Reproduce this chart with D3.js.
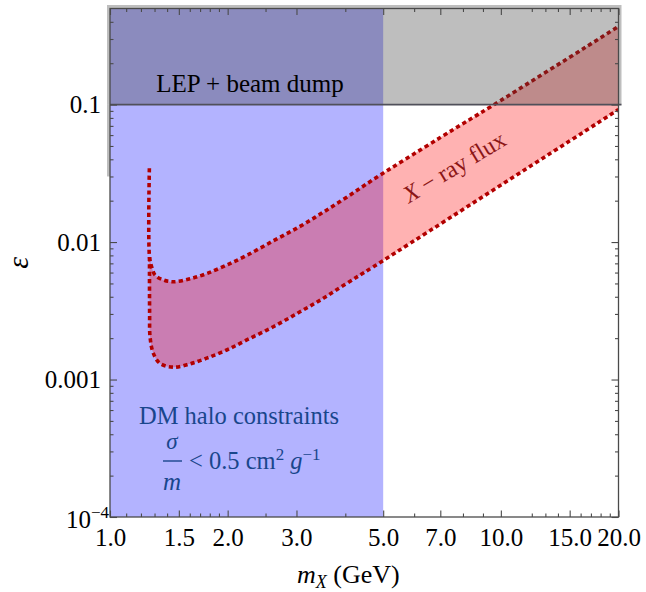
<!DOCTYPE html>
<html><head><meta charset="utf-8">
<script src="https://cdn.jsdelivr.net/npm/d3@7"></script>
<style>
body{margin:0;background:#fff;}
svg{display:block;font-family:"Liberation Serif","Times New Roman",serif;}
</style></head>
<body><svg id="chart" width="646" height="592"></svg>
<script>
// ---- data ----
const xMajorTicks = [1.0, 1.5, 2.0, 3.0, 5.0, 7.0, 10.0, 15.0, 20.0];
const xMinorTicks = [1.1, 1.2, 1.3, 1.4, 1.6, 1.7, 1.8, 1.9, 2.5, 4, 6, 8, 9, 12, 13, 14, 16, 17, 18, 19];
const yMajorTicks = [1e-4, 1e-3, 1e-2, 1e-1];
const yTickLabels = ["10^-4", "0.001", "0.01", "0.1"];
const yMinorTicks = [2e-4,3e-4,4e-4,5e-4,6e-4,7e-4,8e-4,9e-4,2e-3,3e-3,4e-3,5e-3,6e-3,7e-3,8e-3,9e-3,
                     2e-2,3e-2,4e-2,5e-2,6e-2,7e-2,8e-2,9e-2,0.2,0.3,0.4];
const massDomain = [1.0, 20.0];
const epsDomain = [1e-4, 0.5];
const haloMassRange = [1.0, 5.0];     // DM halo constraints region
const lepEpsRange = [0.1, 0.5];       // LEP + beam dump region
const upperMass = [1.261, 1.262, 1.278, 1.304, 1.369, 1.452, 1.602, 1.768, 1.989, 2.238, 2.617, 3.063, 3.514, 4.034, 4.718, 7.0, 9.57, 20.0];
const upperEps  = [0.0344, 0.0078, 0.0066, 0.00575, 0.0053, 0.00514, 0.0054, 0.0059, 0.0068, 0.0080, 0.0102, 0.0130, 0.0165, 0.0212, 0.0285, 0.0576, 0.0992, 0.37];
const lowerMass = [1.262, 1.262, 1.263, 1.266, 1.291, 1.343, 1.452, 1.602, 1.768, 1.989, 2.238, 2.617, 3.063, 3.514, 4.034, 4.718, 20.0];
const lowerEps  = [0.0078, 0.0045, 0.0030, 0.00205, 0.00155, 0.00131, 0.00123, 0.0013, 0.00143, 0.00164, 0.00194, 0.00242, 0.00311, 0.0039, 0.00501, 0.00661, 0.092];

// ---- chart ----
const svg = d3.select("#chart");
const x = d3.scaleLog().domain(massDomain).range([110, 618.5]);
const y = d3.scaleLog().domain(epsDomain).range([517, 8.5]);
const frameColor = "#4a4a4a";
const serif = '"Liberation Serif","Times New Roman",serif';

svg.append("defs").append("clipPath").attr("id","clip")
  .append("rect").attr("x", x(massDomain[0])).attr("y", y(epsDomain[1]))
  .attr("width", x(massDomain[1]) - x(massDomain[0])).attr("height", y(epsDomain[0]) - y(epsDomain[1]));

const plot = svg.append("g").attr("clip-path","url(#clip)");

// blue halo region
plot.append("rect")
  .attr("x", x(haloMassRange[0])).attr("width", x(haloMassRange[1]) - x(haloMassRange[0]))
  .attr("y", y(epsDomain[1])).attr("height", y(epsDomain[0]) - y(epsDomain[1]))
  .attr("fill", "rgb(179,179,255)");

const upperPts = upperMass.map((m,i)=>[x(m), y(upperEps[i])]);
const lowerPts = lowerMass.map((m,i)=>[x(m), y(lowerEps[i])]);
const lineGen = d3.line().curve(d3.curveCatmullRom.alpha(0.5));

// band fill
plot.append("path")
  .attr("d", lineGen(upperPts.slice(1)) + "L" + lineGen(lowerPts.slice().reverse()).slice(1) + "Z")
  .attr("fill", "rgba(255,0,0,0.3)");

// dashed boundaries
[upperPts, lowerPts].forEach(p => {
  plot.append("path").attr("d", lineGen(p))
    .attr("fill","none").attr("stroke","rgb(178,0,0)")
    .attr("stroke-width",3.6).attr("stroke-dasharray","4.2,3.2");
});

// grey LEP region (extends slightly beyond frame like original)
const gx0 = x(massDomain[0]) - 3, gx1 = x(massDomain[1]) + 3;
const gy0 = y(lepEpsRange[1]) - 3.5, gy1 = y(lepEpsRange[0]);
svg.append("rect").attr("x", gx0).attr("y", gy0).attr("width", gx1 - gx0).attr("height", gy1 - gy0)
  .attr("fill","rgb(63,63,63)").attr("fill-opacity",0.338);
svg.append("rect").attr("x", gx0).attr("y", gy1).attr("width", 3).attr("height", y(0.03) - gy1)
  .attr("fill","rgb(63,63,63)").attr("fill-opacity",0.338);
svg.append("line").attr("x1", x(massDomain[0])).attr("x2", gx1).attr("y1", gy1).attr("y2", gy1)
  .attr("stroke","rgb(80,80,90)").attr("stroke-width",1.6);

// frame
svg.append("rect").attr("x", x(massDomain[0])).attr("y", y(epsDomain[1]))
  .attr("width", x(massDomain[1]) - x(massDomain[0])).attr("height", y(epsDomain[0]) - y(epsDomain[1]))
  .attr("fill","none").attr("stroke",frameColor).attr("stroke-width",1.3);

function styleAxis(g){
  g.select(".domain").remove();
  g.selectAll(".tick line").attr("stroke", frameColor).attr("stroke-width",1.1);
  g.selectAll(".tick text").attr("fill","#000").attr("font-size","25px").attr("font-family",serif);
}
const fmt = d3.format(".1f");
const yB = y(epsDomain[0]), yT = y(epsDomain[1]), xL = x(massDomain[0]), xR = x(massDomain[1]);

svg.append("g").attr("transform",`translate(0,${yB})`)
  .call(d3.axisBottom(x).tickValues(xMajorTicks).tickFormat(fmt).tickSizeInner(-6.5).tickSizeOuter(0).tickPadding(11)).call(styleAxis);
svg.append("g").attr("transform",`translate(0,${yB})`)
  .call(d3.axisBottom(x).tickValues(xMinorTicks).tickFormat("").tickSizeInner(-3.5).tickSizeOuter(0)).call(styleAxis);
svg.append("g").attr("transform",`translate(0,${yT})`)
  .call(d3.axisTop(x).tickValues(xMajorTicks).tickFormat("").tickSizeInner(-6.5).tickSizeOuter(0)).call(styleAxis);
svg.append("g").attr("transform",`translate(0,${yT})`)
  .call(d3.axisTop(x).tickValues(xMinorTicks).tickFormat("").tickSizeInner(-3.5).tickSizeOuter(0)).call(styleAxis);

const yAxisG = svg.append("g").attr("transform",`translate(${xL},0)`)
  .call(d3.axisLeft(y).tickValues(yMajorTicks).tickFormat((d,i)=>yTickLabels[i]).tickSizeInner(-7).tickSizeOuter(0).tickPadding(9)).call(styleAxis);
svg.append("g").attr("transform",`translate(${xL},0)`)
  .call(d3.axisLeft(y).tickValues(yMinorTicks).tickFormat("").tickSizeInner(-3.5).tickSizeOuter(0)).call(styleAxis);
svg.append("g").attr("transform",`translate(${xR},0)`)
  .call(d3.axisRight(y).tickValues(yMajorTicks).tickFormat("").tickSizeInner(-7).tickSizeOuter(0)).call(styleAxis);
svg.append("g").attr("transform",`translate(${xR},0)`)
  .call(d3.axisRight(y).tickValues(yMinorTicks).tickFormat("").tickSizeInner(-3.5).tickSizeOuter(0)).call(styleAxis);

// 10^-4 label with superscript
yAxisG.selectAll(".tick text").filter((d,i)=>yTickLabels[i].startsWith("10^")).each(function(){
  const t = d3.select(this);
  const lab = yTickLabels[0].split("^");
  t.text(null).attr("dy","0.42em").attr("x", -1);
  t.append("tspan").text(lab[0]);
  t.append("tspan").attr("dy","-0.6em").attr("font-size","17px").text("\u2212" + lab[1].replace("-",""));
});

// axis titles
const xt = svg.append("text").attr("x", 297).attr("y", 583).attr("text-anchor","start")
  .attr("font-size","26px").attr("fill","#000");
xt.append("tspan").attr("font-style","italic").text("m");
xt.append("tspan").attr("font-style","italic").attr("font-size","18px").attr("dy","5").text("X");
xt.append("tspan").attr("dy","-5").text(" (GeV)");

svg.append("text").attr("transform",`translate(28,${(yB+yT)/2}) rotate(-90)`)
  .attr("text-anchor","middle").attr("font-size","30px").attr("font-style","italic").text("\u03b5");

// region labels
svg.append("text").attr("x", 250).attr("y", y(lepEpsRange[0]) - 13).attr("text-anchor","middle")
  .attr("font-size","25px").attr("fill","#000").text("LEP + beam dump");

svg.append("text").attr("transform",`translate(${x(7.6)},${y(0.0352)}) rotate(-31)`)
  .attr("text-anchor","middle").attr("dominant-baseline","central")
  .attr("font-size","24px").attr("fill","rgb(140,22,22)")
  .call(t=>{ t.append("tspan").attr("font-style","italic").text("X"); t.append("tspan").text(" \u2212 ray flux"); });

const dmColor = "rgb(25,70,140)";
svg.append("text").attr("x",139).attr("y",424).attr("font-size","24.5px").attr("fill",dmColor).text("DM halo constraints");
svg.append("text").attr("x",172).attr("y",449).attr("text-anchor","middle").attr("font-size","23px").attr("font-style","italic").attr("fill",dmColor).text("\u03c3");
svg.append("line").attr("x1",163).attr("x2",182).attr("y1",461).attr("y2",461).attr("stroke",dmColor).attr("stroke-width",1.4);
svg.append("text").attr("x",172).attr("y",490).attr("text-anchor","middle").attr("font-size","25px").attr("font-style","italic").attr("fill",dmColor).text("m");
const ineq = svg.append("text").attr("x",189).attr("y",469).attr("font-size","24.5px").attr("fill",dmColor);
ineq.append("tspan").text("< 0.5 cm");
ineq.append("tspan").attr("dy","-9").attr("font-size","17px").text("2");
ineq.append("tspan").attr("dy","9").text(" ");
ineq.append("tspan").attr("font-style","italic").text("g");
ineq.append("tspan").attr("dy","-9").attr("font-size","17px").text("\u22121");
</script></body></html>
